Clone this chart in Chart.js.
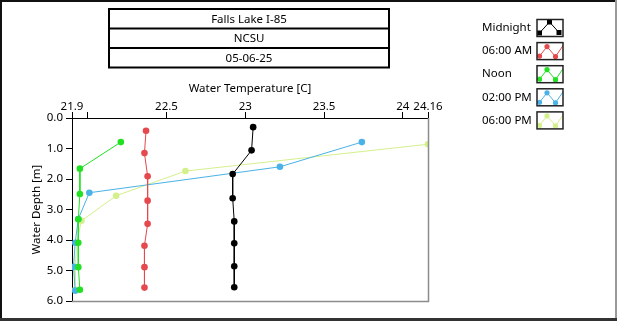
<!DOCTYPE html>
<html>
<head>
<meta charset="utf-8">
<script src="https://cdn.jsdelivr.net/npm/chart.js@4.4.1/dist/chart.umd.min.js"></script>
<style>
  html, body { margin: 0; padding: 0; background: #fff; }
  #wrap { position: relative; width: 620px; height: 324px; }
</style>
</head>
<body>
<div id="wrap"><canvas id="profile" width="620" height="324"></canvas></div>
<script>
// station header
const headerLines = ['Falls Lake I-85', 'NCSU', '05-06-25'];

// profile series
const seriesNames = ['Midnight', '06:00 AM', 'Noon', '02:00 PM', '06:00 PM'];

const midnightDepth = [0.30, 1.06, 1.84, 2.63, 3.39, 4.11, 4.86, 5.55];
const midnightTemp  = [23.05, 23.04, 22.92, 22.92, 22.93, 22.93, 22.93, 22.93];

const morningDepth = [0.42, 1.15, 1.91, 2.71, 3.47, 4.19, 4.89, 5.56];
const morningTemp  = [22.37, 22.36, 22.38, 22.38, 22.38, 22.36, 22.36, 22.36];

const noonDepth = [0.79, 1.66, 2.49, 3.32, 4.09, 4.89, 5.63];
const noonTemp  = [22.21, 21.95, 21.95, 21.94, 21.94, 21.94, 21.95];

const afternoonDepth = [0.79, 1.60, 2.45, 3.31, 4.09, 4.88, 5.66];
const afternoonTemp  = [23.74, 23.22, 22.01, 21.94, 21.92, 21.91, 21.92];

const eveningDepth = [0.86, 1.74, 2.55, 3.37, 4.09, 4.88, 5.63];
const eveningTemp  = [24.16, 22.62, 22.18, 21.96, 21.93, 21.92, 21.92];

// temperature axis ticks (22 gets a mark but no label)
const xTickValues = [21.9, 22, 22.5, 23, 23.5, 24, 24.16];
const xTickLabels = ['21.9', '', '22.5', '23', '23.5', '24', '24.16'];

const seriesColors = ['#000000', '#e5484d', '#22e022', '#4ab2e6', '#d4f08c'];
const FONT = { family: "'Noto Sans', sans-serif", size: 11.5 };

function pairs(temps, depths) {
  return temps.map((t, i) => ({ x: t, y: depths[i] }));
}

const profiles = [
  pairs(midnightTemp, midnightDepth),
  pairs(morningTemp, morningDepth),
  pairs(noonTemp, noonDepth),
  pairs(afternoonTemp, afternoonDepth),
  pairs(eveningTemp, eveningDepth)
];

// header boxes, outer panel, gray plot edges and the swatch legend
const panel = {
  id: 'panel',
  beforeDraw(chart) {
    const { ctx } = chart;
    ctx.save();
    ctx.fillStyle = '#fff';
    ctx.fillRect(0, 0, chart.width, chart.height);

    // outer panel edge
    ctx.fillStyle = '#111';
    ctx.fillRect(0, 0, 617, 2);
    ctx.fillRect(0, 0, 2, 321);
    ctx.fillStyle = '#9a9a9a';
    ctx.fillRect(615, 0, 2, 321);
    ctx.fillStyle = '#333';
    ctx.fillRect(0, 318, 617, 3);

    // header rows
    const bx = 109, bw = 280, rowY = [9, 28.5, 48, 67.5];
    ctx.strokeStyle = '#000';
    ctx.lineWidth = 2;
    ctx.strokeRect(bx, rowY[0], bw, rowY[3] - rowY[0]);
    ctx.beginPath();
    ctx.moveTo(bx, rowY[1]); ctx.lineTo(bx + bw, rowY[1]);
    ctx.moveTo(bx, rowY[2]); ctx.lineTo(bx + bw, rowY[2]);
    ctx.stroke();
    ctx.fillStyle = '#000';
    ctx.font = `${FONT.size}px ${FONT.family}`;
    ctx.textAlign = 'center';
    ctx.textBaseline = 'middle';
    headerLines.forEach((txt, i) => {
      ctx.fillText(txt, bx + bw / 2, (rowY[i] + rowY[i + 1]) / 2 + 0.5);
    });
    ctx.restore();
  },
  afterDatasetsDraw(chart) {
    const { ctx, chartArea: { left, top, right, bottom } } = chart;
    ctx.save();
    ctx.strokeStyle = '#8c8c8c';
    ctx.lineWidth = 1.5;
    ctx.beginPath();
    ctx.moveTo(right + 0.5, top);
    ctx.lineTo(right + 0.5, bottom + 0.5);
    ctx.lineTo(left, bottom + 0.5);
    ctx.stroke();
    ctx.restore();
  },
  afterDraw(chart) {
    const { ctx } = chart;
    ctx.save();
    ctx.font = `${FONT.size}px ${FONT.family}`;
    ctx.textAlign = 'left';
    ctx.textBaseline = 'middle';
    seriesNames.forEach((name, i) => {
      const y0 = 19.5 + i * 23.1;
      const sx = 537, sw = 26, sh = 17;
      ctx.fillStyle = '#000';
      ctx.fillText(name, 482, y0 + 8.5);

      // swatch
      ctx.save();
      ctx.beginPath();
      ctx.rect(sx, y0, sw, sh);
      ctx.clip();
      const pts = i === 0
        ? [[2.5, 13.5], [12.5, 2.5], [22, 13]]
        : [[2.5, 13.5], [10, 4], [18.5, 14], [27, 1.5]];
      ctx.strokeStyle = seriesColors[i];
      ctx.lineWidth = 1;
      ctx.beginPath();
      pts.forEach(([px, py], k) => k ? ctx.lineTo(sx + px, y0 + py) : ctx.moveTo(sx + px, y0 + py));
      ctx.stroke();
      ctx.fillStyle = seriesColors[i];
      pts.slice(0, 3).forEach(([px, py]) => {
        if (i === 0) {
          ctx.fillRect(sx + px - 2.5, y0 + py - 2.5, 5, 5);
        } else {
          ctx.beginPath();
          ctx.arc(sx + px, y0 + py, 2.6, 0, Math.PI * 2);
          ctx.fill();
        }
      });
      ctx.restore();

      ctx.strokeStyle = '#222';
      ctx.lineWidth = 1.5;
      ctx.strokeRect(sx, y0, sw, sh);
    });
    ctx.restore();
  }
};

const ctx1 = document.getElementById('profile');

const profileChart = new Chart(ctx1, {
  type: 'line',
  data: {
    datasets: profiles.map((pts, i) => ({
      label: seriesNames[i],
      data: pts,
      borderColor: seriesColors[i],
      backgroundColor: seriesColors[i],
      borderWidth: 1,
      pointRadius: 3.3,
      pointBorderWidth: 0,
      pointBackgroundColor: seriesColors[i],
      fill: false,
      tension: 0
    }))
  },
  options: {
    responsive: false,
    devicePixelRatio: 1,
    animation: false,
    layout: { padding: { left: 0, top: 78, right: 192, bottom: 23 } },
    plugins: {
      legend: { display: false },
      tooltip: { enabled: false }
    },
    scales: {
      x: {
        type: 'linear',
        position: 'top',
        min: 21.9,
        max: 24.16,
        afterBuildTicks: (s) => { s.ticks = xTickValues.map(v => ({ value: v })); },
        afterFit: (s) => { s.height = 40; },
        ticks: {
          autoSkip: false,
          maxRotation: 0,
          padding: 0,
          color: '#000',
          font: { ...FONT, lineHeight: 1 },
          callback: (v, i) => xTickLabels[i]
        },
        grid: { drawOnChartArea: false, drawTicks: true, tickLength: 6, color: '#000' },
        border: { display: true, color: '#000', width: 1 },
        title: {
          display: true,
          text: 'Water Temperature [C]',
          color: '#000',
          font: FONT,
          padding: { top: 4, bottom: 0 }
        }
      },
      y: {
        type: 'linear',
        reverse: true,
        min: 0,
        max: 6,
        afterFit: (s) => { s.width = 72; },
        ticks: {
          stepSize: 1,
          padding: 3,
          color: '#000',
          font: FONT,
          callback: (v) => Number(v).toFixed(1)
        },
        grid: { drawOnChartArea: false, drawTicks: true, tickLength: 6, color: '#000' },
        border: { display: true, color: '#000', width: 1 },
        title: {
          display: true,
          text: 'Water Depth [m]',
          color: '#000',
          font: FONT,
          padding: { top: 30, bottom: 0 }
        }
      }
    }
  },
  plugins: [panel]
});
</script>
</body>
</html>
